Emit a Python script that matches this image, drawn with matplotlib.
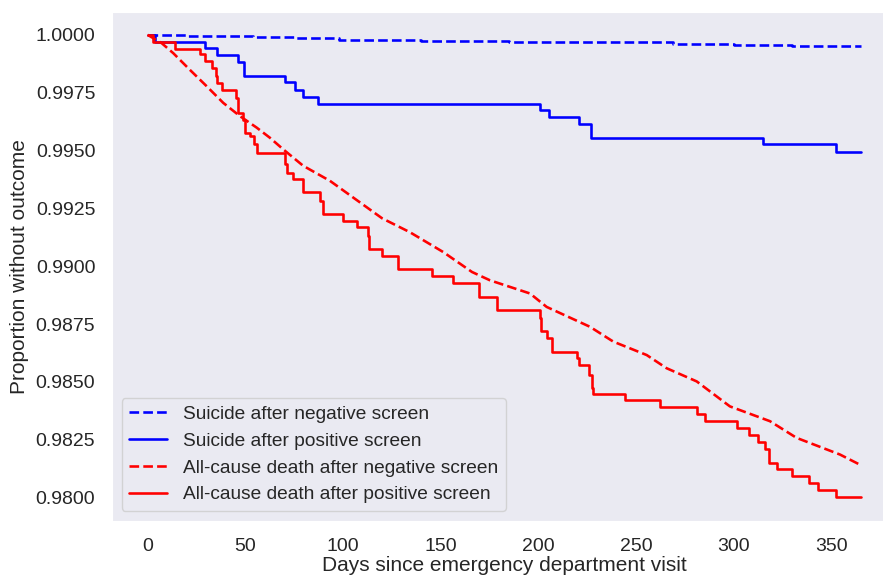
import matplotlib
matplotlib.use("Agg")
import matplotlib.pyplot as plt
import seaborn as sns

# Suicide after negative screen (slow, fine-grained decline)
neg_suicide_days = [0, 20, 54, 75, 98, 140, 185, 220, 247, 269, 300, 330, 365]
neg_suicide_surv = [1.0, 0.99996, 0.99989, 0.99985, 0.99979, 0.99974, 0.99969,
                    0.99968, 0.99967, 0.99960, 0.99957, 0.99953, 0.99950]

# Suicide after positive screen
pos_suicide_days = [0, 4, 29.3, 35.3, 46.2, 49.5, 70.3, 75.4, 79.6, 87.3,
                    200.8, 205.5, 220.7, 226.9, 315, 352.3, 365]
pos_suicide_surv = [1.0, 0.99971, 0.99943, 0.99914, 0.99881, 0.99821, 0.99795,
                    0.99763, 0.99732, 0.99702, 0.99673, 0.99644, 0.99613,
                    0.99556, 0.99527, 0.99495, 0.99495]

# All-cause death after negative screen
neg_death_days = [0, 7.2, 13.1, 21.6, 30.2, 38.7, 47.2, 55.8, 62.6, 69.4, 79.6,
                  93.3, 105, 120, 134.2, 151.3, 166, 175.2, 195.7, 204.2,
                  226.4, 238.3, 255.4, 265.6, 281, 298, 318.5, 332.1, 354.3, 365]
neg_death_surv = [1.0, 0.99964, 0.99921, 0.99849, 0.99778, 0.99706, 0.99649,
                  0.99599, 0.99555, 0.99505, 0.99434, 0.99369, 0.99298,
                  0.99207, 0.99147, 0.99061, 0.98975, 0.98939, 0.98882,
                  0.98824, 0.98738, 0.98674, 0.98616, 0.98559, 0.98502,
                  0.98394, 0.98330, 0.98258, 0.98186, 0.98140]

# All-cause death after positive screen
pos_death_days = [0, 3, 14, 26.8, 29.3, 32.7, 35, 35.3, 37.9, 45.2, 46.4, 48.9,
                  49.8, 52.4, 54.4, 56.1, 70.3, 71.1, 74.5, 79.6, 88.2, 89.9,
                  100.1, 107, 112.9, 113.4, 119.8, 128.3, 145.3, 156.4, 169.7,
                  178.6, 200.8, 201.2, 204.3, 206.7, 219.8, 220.9, 225.7, 227.2,
                  228, 244.3, 262.2, 281.4, 285.2, 301.4, 307.9, 312.5, 315.9,
                  318.1, 321.9, 329.6, 338.6, 343.2, 352.3, 365]
pos_death_surv = [1.0, 0.99971, 0.9994, 0.99917, 0.99885, 0.99857, 0.99821,
                  0.99792, 0.99763, 0.99728, 0.99663, 0.99634, 0.99577,
                  0.99563, 0.99527, 0.99491, 0.99441, 0.99405, 0.99376,
                  0.99319, 0.99283, 0.99226, 0.99197, 0.99169, 0.99132,
                  0.99075, 0.99046, 0.98989, 0.98958, 0.98929, 0.98867,
                  0.98810, 0.98774, 0.98720, 0.98688, 0.98631, 0.98602,
                  0.98571, 0.98530, 0.98473, 0.98449, 0.98420, 0.98390,
                  0.98361, 0.98332, 0.98301, 0.98272, 0.98239, 0.98208,
                  0.98151, 0.98122, 0.98093, 0.98065, 0.98032, 0.98003, 0.98003]

sns.set_style("dark")
plt.rcParams["font.family"] = ["Liberation Sans", "DejaVu Sans"]

fig = plt.figure(figsize=(8.83, 5.77), dpi=100)
ax = fig.add_axes([0.1268, 0.0976, 0.8885, 0.8821])

lw = 1.875
ax.plot(neg_suicide_days, neg_suicide_surv, color="blue", ls="--", lw=lw,
        drawstyle="steps-post", label="Suicide after negative screen")
ax.plot(pos_suicide_days, pos_suicide_surv, color="blue", ls="-", lw=lw,
        drawstyle="steps-post", label="Suicide after positive screen")
ax.plot(neg_death_days, neg_death_surv, color="red", ls="--", lw=lw,
        label="All-cause death after negative screen")
ax.plot(pos_death_days, pos_death_surv, color="red", ls="-", lw=lw,
        drawstyle="steps-post", label="All-cause death after positive screen")

ax.set_xlim(-18.25, 383.25)
ax.set_ylim(0.979, 1.001)
ax.set_xticks([0, 50, 100, 150, 200, 250, 300, 350])
ax.set_yticks([0.98, 0.9825, 0.985, 0.9875, 0.99, 0.9925, 0.995, 0.9975, 1.0])
ax.yaxis.set_major_formatter(matplotlib.ticker.FormatStrFormatter("%.4f"))
ax.tick_params(axis="x", labelsize=14, pad=9, colors=".15")
ax.tick_params(axis="y", labelsize=14, pad=8.5, colors=".15")

ax.set_xlabel("Days since emergency department visit", fontsize=15,
              color=".15", labelpad=1)
ax.set_ylabel("Proportion without outcome", fontsize=15, color=".15",
              labelpad=5)

ax.legend(loc="lower left", fontsize=13.75)

fig.savefig("out.png", dpi=100)
